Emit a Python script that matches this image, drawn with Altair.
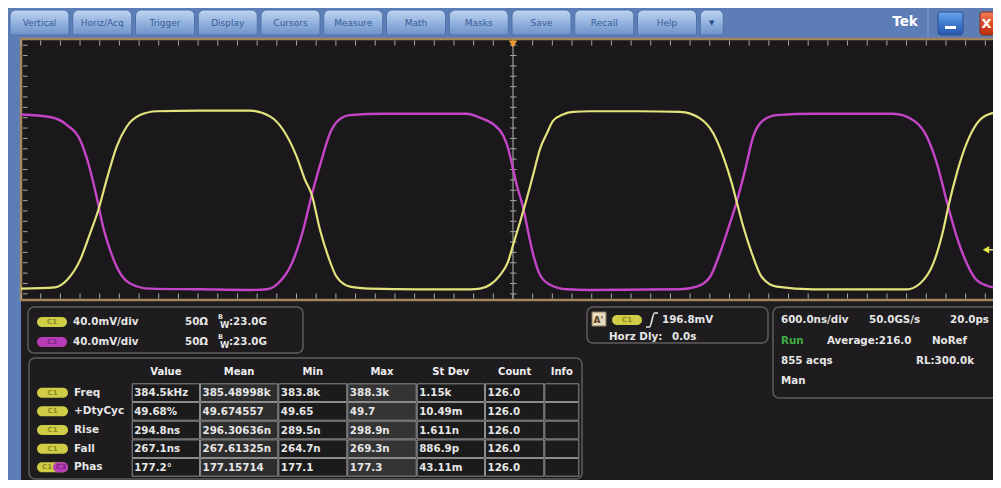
import altair as alt
import pandas as pd

# ---------------- values ----------------
# C1 (yellow) trace: time in ns relative to trigger, level in mV relative to screen centre
YEL_T = [-3000, -2793, -2721, -2640, -2579, -2529, -2478, -2417, -2356, -2274, -2173, -1909,
         -1604, -1482, -1401, -1319, -1268, -1227, -1177, -1126, -1075, -994, -872, -567,
         -262, -201, -140, -79, -31, 0, 43, 85, 122, 165, 207, 244, 305, 366, 470, 774,
         1018, 1140, 1221, 1282, 1334, 1364, 1404, 1456, 1517, 1608, 1831, 2116, 2401,
         2482, 2563, 2624, 2654, 2706, 2767, 2828, 2909, 3000]
YEL_V = [-184, -182, -171, -140, -99, -63, -16, 35, 66, 84, 90, 91,
         91, 82, 61, 20, -16, -39, -93, -135, -166, -181, -184, -185,
         -185, -184, -178, -163, -143, -117, -81, -44, -9, 32, 56, 75, 85, 89, 90, 90,
         89, 79, 56, 20, -21, -50, -88, -129, -166, -181, -185, -185, -185,
         -176, -145, -93, -58, -6, 41, 71, 86, 89]
# C3 (magenta) trace
MAG_T = [-3000, -2823, -2721, -2640, -2590, -2539, -2500, -2457, -2407, -2335, -2213, -1909,
         -1604, -1502, -1421, -1349, -1279, -1227, -1167, -1116, -1065, -994, -793, -282,
         -201, -120, -59, -29, -8, 23, 63, 93, 124, 165, 226, 327, 470, 1018, 1120, 1201,
         1262, 1323, 1364, 1415, 1465, 1526, 1608, 1831, 2319, 2441, 2523, 2584, 2654,
         2706, 2767, 2828, 2909, 3000]
MAG_V = [85, 81, 69, 46, 10, -42, -88, -124, -155, -176, -184, -185,
         -186, -185, -173, -145, -93, -39, 15, 56, 76, 84, 86, 86,
         80, 70, 52, 32, 10, -24, -60, -97, -132, -163, -178, -185, -186, -185, -181, -166,
         -129, -83, -50, -1, 51, 76, 84, 86, 86, 76, 51, 10, -58,
         -104, -145, -171, -181, -184]

TRIG_T = [0]
TRIG_LEVEL_MV = [-124]

MENU_TABS = ["Vertical", "Horiz/Acq", "Trigger", "Display", "Cursors", "Measure",
             "Math", "Masks", "Save", "Recall", "Help", "\u25bc"]

CH_NAMES = ["C1", "C3"]
CH_SCALE = ["40.0mV/div", "40.0mV/div"]
CH_TERM = ["50\u03a9", "50\u03a9"]
CH_BW = [":23.0G", ":23.0G"]

TRIG_SRC = "C1"
TRIG_LEVEL = "196.8mV"
HORZ_DLY_LABEL = "Horz Dly:"
HORZ_DLY = "0.0s"

ACQ_ROW1 = ["600.0ns/div", "50.0GS/s", "20.0ps"]
ACQ_ROW2 = ["Run", "Average:216.0", "NoRef"]
ACQ_ROW3 = ["855 acqs", "RL:300.0k"]
ACQ_ROW4 = ["Man"]

MEAS_HEAD = ["Value", "Mean", "Min", "Max", "St Dev", "Count", "Info"]
MEAS_NAME = ["Freq", "+DtyCyc", "Rise", "Fall", "Phas"]
MEAS_VALUE = ["384.5kHz", "49.68%", "294.8ns", "267.1ns", "177.2\u00b0"]
MEAS_MEAN = ["385.48998k", "49.674557", "296.30636n", "267.61325n", "177.15714"]
MEAS_MIN = ["383.8k", "49.65", "289.5n", "264.7n", "177.1"]
MEAS_MAX = ["388.3k", "49.7", "298.9n", "269.3n", "177.3"]
MEAS_SD = ["1.15k", "10.49m", "1.611n", "886.9p", "43.11m"]
MEAS_COUNT = ["126.0", "126.0", "126.0", "126.0", "126.0"]
MEAS_INFO = ["", "", "", "", ""]

# ---------------- layout & style ----------------
OFF = 8
W, H = 985, 472
FONT = "DejaVu Sans"
TXT = "#e6e6e6"
YEL = "#e4e27c"
MAG = "#c446c6"
PILL_Y = "#cfcd45"
PILL_M = "#b83cb8"
DARK = "#1e1c1f"

UX = alt.Scale(domain=[0, W], range=[0, W], zero=False, nice=False)
UY = alt.Scale(domain=[0, H], range=[0, H], zero=False, nice=False)
TX = alt.Scale(domain=[-3000, 3000], range=[21 - OFF, 1005 - OFF], zero=False, nice=False)
VY = alt.Scale(domain=[-200, 200], range=[299 - OFF, 40 - OFF], zero=False, nice=False)


def ui_rects(rows, encode_fill=True, **mark):
    df = pd.DataFrame(rows, columns=["x", "x2", "y", "y2", "fill"])
    for c in ["x", "x2", "y", "y2"]:
        df[c] = df[c] - OFF
    enc = dict(x=alt.X("x:Q", scale=UX, axis=None), x2="x2:Q",
               y=alt.Y("y:Q", scale=UY, axis=None), y2="y2:Q")
    if encode_fill:
        enc["fill"] = alt.Fill("fill:N", scale=None)
    return alt.Chart(df).mark_rect(**mark).encode(**enc)


def ui_rules(rows, color, width=1.0):
    df = pd.DataFrame(rows, columns=["x", "x2", "y", "y2"])
    for c in df.columns:
        df[c] = df[c] - OFF
    return alt.Chart(df).mark_rule(color=color, strokeWidth=width).encode(
        x=alt.X("x:Q", scale=UX, axis=None), x2="x2:Q",
        y=alt.Y("y:Q", scale=UY, axis=None), y2="y2:Q")


def ui_texts(rows, align="left", weight="bold", font=FONT):
    df = pd.DataFrame(rows, columns=["x", "y", "text", "color", "size"])
    df["x"] = df["x"] - OFF
    df["y"] = df["y"] - OFF
    return alt.Chart(df).mark_text(align=align, baseline="middle", fontWeight=weight,
                                   font=font).encode(
        x=alt.X("x:Q", scale=UX, axis=None), y=alt.Y("y:Q", scale=UY, axis=None),
        text="text:N", color=alt.Color("color:N", scale=None),
        size=alt.Size("size:Q", scale=None))


def grad(c0, c1, c2):
    return {"gradient": "linear", "x1": 0, "y1": 0, "x2": 0, "y2": 1,
            "stops": [{"offset": 0, "color": c0}, {"offset": 0.5, "color": c1},
                      {"offset": 1, "color": c2}]}


layers = []

# dark body and scope display
layers.append(ui_rects([(21, 1001, 38, 488, DARK)]))
layers.append(ui_rects([(21, 1006, 39, 300, "#1a181b")], stroke="#a3865c", strokeWidth=2.5))

# graticule
GRID_T = list(range(-3000, 3001, 120))
GRID_V = list(range(-192, 193, 16))
gt = pd.DataFrame({"t": GRID_T})
gv = pd.DataFrame({"v": GRID_V})
tick_col = "#a9a9a9"
layers.append(alt.Chart(gt).mark_rule(color=tick_col, strokeWidth=1).encode(
    x=alt.X("t:Q", scale=TX, axis=None), y=alt.value(40.5 - OFF), y2=alt.value(45.5 - OFF)))
layers.append(alt.Chart(gt).mark_rule(color=tick_col, strokeWidth=1).encode(
    x=alt.X("t:Q", scale=TX, axis=None), y=alt.value(293.5 - OFF), y2=alt.value(298.5 - OFF)))
for xa, xb in [(23, 27.5), (510, 516.5)]:
    layers.append(alt.Chart(gv).mark_rule(color=tick_col, strokeWidth=1).encode(
        y=alt.Y("v:Q", scale=VY, axis=None), x=alt.value(xa - OFF), x2=alt.value(xb - OFF)))
layers.append(alt.Chart(pd.DataFrame({"t": TRIG_T})).mark_rule(color="#9d9d9d", strokeWidth=1.2).encode(
    x=alt.X("t:Q", scale=TX, axis=None), y=alt.value(40 - OFF), y2=alt.value(299 - OFF)))

# waveforms
mag_df = pd.DataFrame({"t": MAG_T, "v": MAG_V})
yel_df = pd.DataFrame({"t": YEL_T, "v": YEL_V})
layers.append(alt.Chart(mag_df).mark_line(color=MAG, strokeWidth=2.4, interpolate="monotone").encode(
    x=alt.X("t:Q", scale=TX, axis=None), y=alt.Y("v:Q", scale=VY, axis=None)))
layers.append(alt.Chart(yel_df).mark_line(color=YEL, strokeWidth=2.2, interpolate="monotone").encode(
    x=alt.X("t:Q", scale=TX, axis=None), y=alt.Y("v:Q", scale=VY, axis=None)))

# trigger position marker and trigger level arrow
layers.append(alt.Chart(pd.DataFrame({"t": TRIG_T})).mark_point(
    shape="triangle-down", filled=True, color="#f0982c", size=70, opacity=1).encode(
    x=alt.X("t:Q", scale=TX, axis=None), y=alt.value(44 - OFF)))
lvl = pd.DataFrame({"v": TRIG_LEVEL_MV})
layers.append(alt.Chart(lvl).mark_rule(color=YEL, strokeWidth=1.5).encode(
    y=alt.Y("v:Q", scale=VY, axis=None), x=alt.value(986 - OFF), x2=alt.value(1001 - OFF)))
layers.append(alt.Chart(lvl).mark_point(shape="triangle-left", filled=True, color="#e8e640",
                                        size=55, opacity=1).encode(
    y=alt.Y("v:Q", scale=VY, axis=None), x=alt.value(986 - OFF)))

# ---------------- menu bar ----------------
tab_rows = []
tab_txt = []
for i, name in enumerate(MENU_TABS):
    x0 = 10 + i * 62.75
    x1 = x0 + (23 if name == "\u25bc" else 59)
    tab_rows.append((x0, x1, 10, 35, ""))
    tab_txt.append(((x0 + x1) / 2, 23, name, "#3a5b94" if name != "\u25bc" else "#2a4a88",
                    9 if name != "\u25bc" else 7))
layers.append(ui_rects(tab_rows, encode_fill=False,
                       fill=grad("#c0d5f0", "#94b4e0", "#6e93c9"),
                       stroke="#4f72aa", strokeWidth=1,
                       cornerRadiusTopLeft=6, cornerRadiusTopRight=6))
layers.append(ui_texts(tab_txt, align="center", weight="normal"))
layers.append(ui_rules([(928, 928, 8, 38)], "#86a3d0", 1))
layers.append(ui_texts([(905, 22, "Tek", "#ffffff", 13.5)], align="center", weight="bold"))
layers.append(ui_rects([(938, 963, 12, 35, "")], encode_fill=False,
                       fill=grad("#6aa6ee", "#3f7bd0", "#2a58ad"), stroke="#2c4f90",
                       strokeWidth=1, cornerRadius=3))
layers.append(ui_rects([(945, 956, 26, 29, "#ffffff")]))
layers.append(ui_rects([(980, 1006, 12, 35, "")], encode_fill=False,
                       fill=grad("#f08060", "#dd4a25", "#bd3012"), stroke="#8a2a10",
                       strokeWidth=1, cornerRadius=3))
layers.append(ui_texts([(986.5, 24, "X", "#ffffff", 13)], align="center", weight="bold"))

# ---------------- bottom panels ----------------
layers.append(ui_rects([(28, 303, 307, 353, DARK), (587, 768, 307, 343, DARK),
                        (773, 998, 307, 398, DARK), (29, 582, 358, 479, DARK)],
                       stroke="#5e5e5e", strokeWidth=1.5, cornerRadius=6))

# channel panel
pills = []
pill_txt = []
ch_txt = []
for r, (nm, sc, term, bw) in enumerate(zip(CH_NAMES, CH_SCALE, CH_TERM, CH_BW)):
    yc = 322 + r * 20
    col = PILL_Y if nm == "C1" else PILL_M
    pills.append((37, 67, yc - 5, yc + 5, col))
    pill_txt.append((52, yc, nm, "#8d8b22" if nm == "C1" else "#7e2680", 7))
    ch_txt += [(73, yc, sc, TXT, 10.3), (185, yc, term, TXT, 10.3),
               (229, yc, bw, TXT, 10.3), (218, yc - 5, "B", TXT, 6.5), (220, yc + 2.5, "W", TXT, 8.5)]

# trigger panel
pills.append((612, 642, 315, 325, PILL_Y))
pill_txt.append((627, 320, TRIG_SRC, "#8d8b22", 7))
layers.append(ui_rects([(592, 606, 312, 326, "#e6dac0")], stroke="#8a7a5a", strokeWidth=1))
ch_txt += [(593.5, 319.5, "A'", "#5a4020", 9),
           (662, 320, TRIG_LEVEL, TXT, 10.3),
           (609, 337, HORZ_DLY_LABEL, TXT, 10.3), (672, 337, HORZ_DLY, TXT, 10.3)]
edge = pd.DataFrame({"x": [646 - OFF, 649.5 - OFF, 654.5 - OFF, 658 - OFF],
                     "y": [327 - OFF, 327 - OFF, 313 - OFF, 313 - OFF], "o": [0, 1, 2, 3]})
layers.append(alt.Chart(edge).mark_line(color=TXT, strokeWidth=1.6, interpolate="monotone").encode(
    x=alt.X("x:Q", scale=UX, axis=None), y=alt.Y("y:Q", scale=UY, axis=None), order="o:Q"))

# acquisition panel
acq = [(781, 320, ACQ_ROW1[0], TXT, 10.3), (869, 320, ACQ_ROW1[1], TXT, 10.3),
       (781, 341, ACQ_ROW2[0], "#3fae45", 10.3), (827, 341, ACQ_ROW2[1], TXT, 10.3),
       (932, 341, ACQ_ROW2[2], TXT, 10.3),
       (781, 361, ACQ_ROW3[0], TXT, 10.3),
       (781, 381, ACQ_ROW4[0], TXT, 10.3)]
acq_r = [(989, 320, ACQ_ROW1[2], TXT, 10.3), (974, 361, ACQ_ROW3[1], TXT, 10.3)]

# measurement table
COL_EDGES = [131.7, 200, 278.3, 347.3, 416.7, 485, 544.3, 579.3]
ROW_EDGES = [383.3, 402, 420.7, 439.4, 458, 476.7]
COL_FILL = ["#1b1b1b", "#2e2d2e", "#1b1b1b", "#353435", "#1b1b1b", "#1b1b1b", "#1b1b1b"]
cols = [MEAS_VALUE, MEAS_MEAN, MEAS_MIN, MEAS_MAX, MEAS_SD, MEAS_COUNT, MEAS_INFO]
cells = []
cell_txt = []
head_txt = []
for c, head in enumerate(MEAS_HEAD):
    head_txt.append(((COL_EDGES[c] + COL_EDGES[c + 1]) / 2, 372, head, "#f0f0f0", 10))
    for r in range(len(MEAS_NAME)):
        cells.append((COL_EDGES[c] + 0.5, COL_EDGES[c + 1] - 0.5,
                      ROW_EDGES[r] + 0.5, ROW_EDGES[r + 1] - 0.5, COL_FILL[c]))
        if cols[c][r]:
            cell_txt.append((COL_EDGES[c] + 2.5, (ROW_EDGES[r] + ROW_EDGES[r + 1]) / 2 + 0.5,
                             cols[c][r], TXT, 10.3))
label_txt = []
for r, nm in enumerate(MEAS_NAME):
    yc = (ROW_EDGES[r] + ROW_EDGES[r + 1]) / 2
    pills.append((37, 68, yc - 5, yc + 5, PILL_Y))
    if nm == "Phas":
        pills.append((53, 68, yc - 5, yc + 5, PILL_M))
        pill_txt.append((47, yc, "C1", "#8d8b22", 7))
        pill_txt.append((61, yc, "C3", "#7e2680", 7))
    else:
        pill_txt.append((52.5, yc, "C1", "#8d8b22", 7))
    label_txt.append((74, yc, nm, TXT, 10.5))

layers.append(ui_rects(cells, stroke="#8c8c8c", strokeWidth=1))
layers.append(ui_rects(pills, cornerRadius=5))
layers.append(ui_texts(pill_txt, align="center", weight="bold"))
layers.append(ui_texts(ch_txt + acq + cell_txt + label_txt, align="left", weight="bold"))
layers.append(ui_texts(acq_r, align="right", weight="bold"))
layers.append(ui_texts(head_txt, align="center", weight="bold"))

chart = alt.layer(*layers).resolve_scale(x="independent", y="independent").properties(
    width=W, height=H, background="#5c7db5", padding=0,
    autosize=alt.AutoSizeParams(type="none", contains="padding"),
).configure_view(stroke=None)

chart.save("out.html", embed_options={"renderer": "svg", "actions": False})
